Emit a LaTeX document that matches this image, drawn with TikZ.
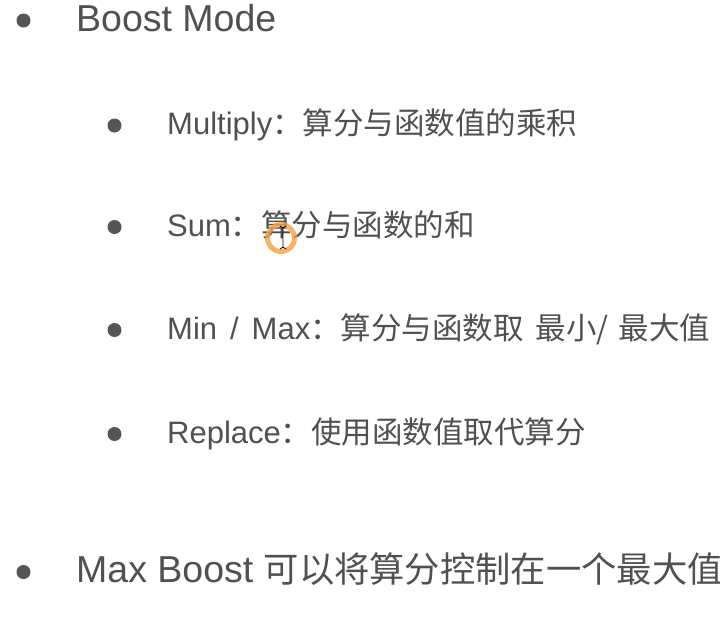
\documentclass[tikz,border=0pt]{standalone}
\usepackage{fontspec}
\setmainfont{Liberation Sans}
\newfontfamily\cjk{Noto Sans CJK SC}
\definecolor{txt}{HTML}{505050}
\definecolor{dot}{HTML}{555555}
\definecolor{ring}{HTML}{F5A040}
\newcommand{\mainsz}{\fontsize{37.5}{40}\selectfont}
\newcommand{\mainck}{\fontsize{35.3}{40}\selectfont\cjk}
\newcommand{\subsz}{\fontsize{31}{34}\selectfont}
\newcommand{\subck}{\fontsize{30.5}{34}\selectfont\cjk}
\tikzset{
  mainitem/.style={anchor=base west, inner sep=0pt, text=txt, font=\mainsz},
  subitem/.style={anchor=base west, inner sep=0pt, text=txt, font=\subsz},
  bulletdot/.style={circle, fill=dot, inner sep=0pt, minimum size=14pt}
}
\begin{document}
\begin{tikzpicture}[x=1pt,y=-1pt]
\useasboundingbox[fill=white] (0,0) rectangle (720,630);
\node[bulletdot] (b1) at (23.5,20.5) {};
\node[mainitem] (t1) at (76,31) {Boost Mode};
\node[bulletdot] (s1) at (114.5,125.5) {};
\node[subitem] (u1) at (167,134) {Multiply{\subck ：算分与函数值的乘积}};
\node[bulletdot] (s2) at (114.5,227) {};
\node[subitem] (u2) at (167,236) {Sum{\subck ：算分与函数的和}};
\node[bulletdot] (s3) at (114.5,330) {};
\node[subitem] (u3) at (167,339) {Min\hspace{13pt}/\hspace{13pt}Max{\subck ：算分与函数取\hspace{12pt}最小/\hspace{10pt}最大值}};
\node[bulletdot] (s4) at (114.5,434) {};
\node[subitem] (u4) at (167,443) {Replace{\subck ：使用函数值取代算分}};
\node[bulletdot] (b2) at (23.5,572) {};
\node[mainitem] (t2) at (76,582) {Max Boost {\mainck 可以将算分控制在一个最大值}};
% cursor highlight
\draw[ring, line width=5pt, opacity=0.8] (281,238) circle (13.5);
\draw[black, line width=0.8pt] (283,227) -- (283,248)
  (280,226) -- (283,228) -- (286,226) (280,249) -- (283,247) -- (286,249);
\end{tikzpicture}
\end{document}
